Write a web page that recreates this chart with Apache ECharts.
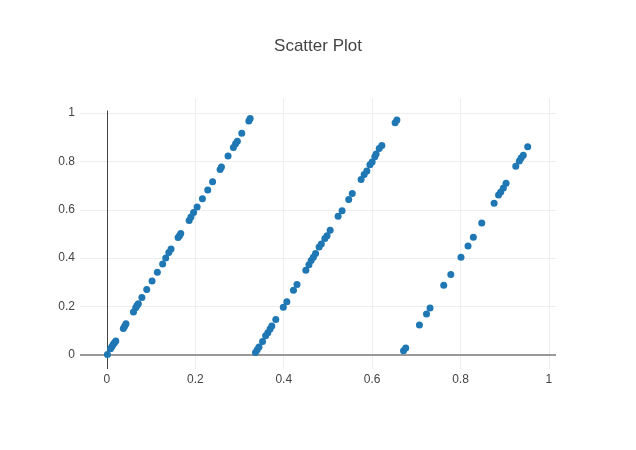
<!DOCTYPE html>
<html>
<head>
<meta charset="utf-8">
<script src="https://cdn.jsdelivr.net/npm/echarts@6/dist/echarts.min.js"></script>
<style>html,body{margin:0;padding:0;background:#fff}#c{width:636px;height:450px}</style>
</head>
<body>
<div id="c"></div>
<script>
const titleText = "Scatter Plot";
const xTicks = [0, 0.2, 0.4, 0.6, 0.8, 1];
const yTicks = [0, 0.2, 0.4, 0.6, 0.8, 1];

const xValues = [
  0.001, 0.008, 0.011, 0.014, 0.017, 0.020, 0.037, 0.040, 0.043, 0.060, 0.065, 0.068, 0.071,
  0.079, 0.090, 0.102, 0.114, 0.126, 0.133, 0.140, 0.145, 0.161, 0.164, 0.167, 0.186, 0.190,
  0.196, 0.204, 0.216, 0.228, 0.239, 0.256, 0.259, 0.274, 0.286, 0.291, 0.295, 0.305, 0.321, 0.324,
  0.336, 0.340, 0.344, 0.352, 0.359, 0.364, 0.369, 0.373, 0.382, 0.399, 0.407, 0.422, 0.430,
  0.450, 0.457, 0.462, 0.467, 0.472, 0.480, 0.485, 0.493, 0.498, 0.505, 0.523, 0.532, 0.547, 0.555,
  0.575, 0.582, 0.588, 0.595, 0.600, 0.606, 0.609, 0.616, 0.622, 0.652, 0.656,
  0.671, 0.676, 0.707, 0.723, 0.731, 0.762, 0.778, 0.801, 0.817, 0.829, 0.848, 0.876,
  0.886, 0.891, 0.897, 0.903, 0.925, 0.933, 0.937, 0.942, 0.952
];
const yValues = [
  0.002, 0.026, 0.034, 0.043, 0.051, 0.058, 0.109, 0.119, 0.129, 0.178, 0.195, 0.204, 0.212,
  0.237, 0.271, 0.306, 0.342, 0.376, 0.401, 0.423, 0.438, 0.485, 0.493, 0.502, 0.556, 0.570,
  0.589, 0.612, 0.646, 0.682, 0.716, 0.766, 0.777, 0.822, 0.857, 0.873, 0.883, 0.916, 0.967, 0.977,
  0.010, 0.022, 0.033, 0.056, 0.079, 0.092, 0.107, 0.120, 0.147, 0.197, 0.220, 0.267, 0.291,
  0.350, 0.373, 0.390, 0.404, 0.419, 0.446, 0.459, 0.481, 0.493, 0.515, 0.573, 0.596, 0.643, 0.667,
  0.725, 0.746, 0.760, 0.786, 0.798, 0.819, 0.831, 0.853, 0.866, 0.960, 0.971,
  0.017, 0.029, 0.124, 0.169, 0.194, 0.288, 0.333, 0.404, 0.450, 0.486, 0.545, 0.627,
  0.661, 0.674, 0.690, 0.710, 0.780, 0.802, 0.814, 0.825, 0.861
];

const X_MIN = -0.061, X_MAX = 1.016, Y_MIN = -0.058, Y_MAX = 1.062;
const points = xValues.map((x, i) => [x, yValues[i]]);
const fmt = v => String(Math.round(v * 10) / 10);
const FONT = 'Liberation Sans';

const gridLines = [];
xTicks.filter(v => v !== 0).forEach(v => gridLines.push({ xAxis: v }));
yTicks.filter(v => v !== 0).forEach(v => gridLines.push({ yAxis: v }));

const chart = echarts.init(document.getElementById('c'), null, { renderer: 'canvas' });
chart.setOption({
  animation: false,
  backgroundColor: '#fff',
  title: {
    text: titleText, left: 'center', top: 33,
    textStyle: { fontFamily: FONT, fontSize: 17, fontWeight: 'normal', color: '#444' }
  },
  grid: { left: 80, right: 80, top: 98, bottom: 81, containLabel: false },
  xAxis: {
    type: 'value', min: X_MIN, max: X_MAX,
    axisLine: { show: false }, axisTick: { show: false }, splitLine: { show: false },
    axisLabel: { customValues: xTicks, formatter: fmt, color: '#444', fontFamily: FONT, fontSize: 12, margin: 5, showMinLabel: true, showMaxLabel: true }
  },
  yAxis: {
    type: 'value', min: Y_MIN, max: Y_MAX,
    axisLine: { show: false }, axisTick: { show: false }, splitLine: { show: false },
    axisLabel: { customValues: yTicks, formatter: fmt, color: '#444', fontFamily: FONT, fontSize: 12, margin: 5 }
  },
  series: [
    {
      type: 'scatter', data: [], silent: true, z: 1,
      markLine: {
        silent: true, symbol: 'none', label: { show: false },
        lineStyle: { color: '#eeeeee', width: 1, type: 'solid' },
        data: gridLines
      }
    },
    {
      type: 'scatter', data: [], silent: true, z: 2,
      markLine: {
        silent: true, symbol: 'none', label: { show: false },
        data: [
          { yAxis: 0, lineStyle: { color: '#999', width: 2, type: 'solid' } },
          [{ coord: [0, Y_MIN], lineStyle: { color: '#444', width: 1, type: 'solid' } }, { coord: [0, 1.01] }]
        ]
      }
    },
    {
      type: 'scatter', data: points, symbolSize: 7, z: 5,
      itemStyle: { color: '#1f77b4', opacity: 1 }
    }
  ]
});
</script>
</body>
</html>
